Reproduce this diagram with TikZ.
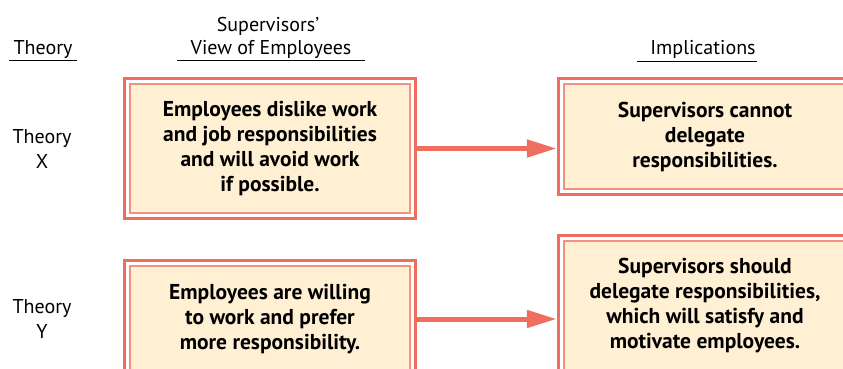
\documentclass[tikz,border=0pt]{standalone}
\usepackage{fontspec}
\setmainfont{PT Sans}
\usetikzlibrary{arrows.meta}

\definecolor{salmon}{RGB}{240,110,95}
\definecolor{salmonlight}{RGB}{244,145,130}
\definecolor{cream}{RGB}{255,240,212}

\tikzset{
  viewbox/.style={draw=salmonlight, line width=1.5pt, fill=cream, align=center,
    font=\fontsize{21.5}{25}\selectfont\bfseries, inner sep=0pt},
  frame/.style={draw=salmon, line width=3pt},
  flow/.style={draw=salmon, line width=5pt, -{Triangle[length=30pt,width=17pt]}},
  head/.style={font=\fontsize{20}{25}\selectfont, anchor=base},
  theory/.style={font=\fontsize{20}{25}\selectfont, align=center},
  rule/.style={line width=1pt}
}

\begin{document}
\begin{tikzpicture}[x=1pt, y=-1pt]
        \clip (0,0) rectangle (843,369);

        % Headings
        \node[head] (hdTheory) at (43,55) {Theory};
        \node[head] (hdSup) at (268,32) {Supervisors’};
        \node[head] (hdView) at (271,55) {View of Employees};
        \node[head] (hdImpl) at (703,55) {Implications};
        \draw[rule] (9,61) -- (77,61);
        \draw[rule] (177,61) -- (365,61);
        \draw[rule] (637,62) -- (757,62);

        % Theories
        \node[theory] (thX) at (42,149) {Theory\\X};
        \node[theory] (thY) at (42,319) {Theory\\Y};

        % Boxes
        \node[viewbox, minimum width=280pt, minimum height=129pt] (viewX) at (270,148.5)
          {Employees dislike work\\and job responsibilities\\and will avoid work\\if possible.};
        \node[viewbox, minimum width=282pt, minimum height=105pt] (implX) at (705,136.5)
          {Supervisors cannot\\delegate\\responsibilities.};
        \node[viewbox, minimum width=280pt, minimum height=106pt] (viewY) at (270,319)
          {Employees are willing\\to work and prefer\\more responsibility.};
        \node[viewbox, minimum width=282pt, minimum height=129pt] (implY) at (705,305.5)
          {Supervisors should\\delegate responsibilities,\\which will satisfy and\\motivate employees.};
        \foreach \b in {viewX,implX,viewY,implY}
          \draw[frame] ([shift={(-5pt,5pt)}]\b.north west) rectangle ([shift={(5pt,-5pt)}]\b.south east);

        % Arrows
        \draw[flow] ([xshift=5pt]viewX.east) -- ([xshift=-6.5pt]implX.west |- viewX.east);
        \draw[flow] ([xshift=5pt]viewY.east) -- ([xshift=-6.5pt]implY.west |- viewY.east);
\end{tikzpicture}
\end{document}
